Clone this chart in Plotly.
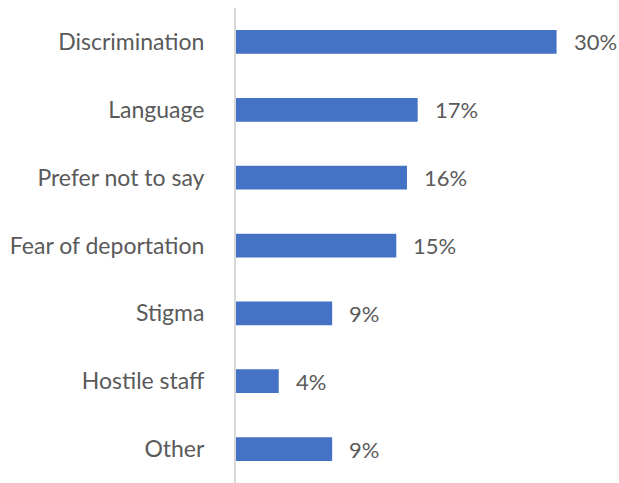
import plotly.graph_objects as go

# Reasons reported, top to bottom
categories = ["Discrimination", "Language", "Prefer not to say", "Fear of deportation",
              "Stigma", "Hostile staff", "Other"]
shares = [30, 17, 16, 15, 9, 4, 9]
labels = [f"{v}%" for v in shares]

bar_color = "#4472C4"
text_color = "#5a5a5a"
font_family = "Lato, 'Open Sans', sans-serif"

fig = go.Figure(
    go.Bar(
        x=shares,
        y=categories,
        orientation="h",
        marker=dict(color=bar_color, line=dict(width=0)),
        hoverinfo="skip",
    )
)

# value labels placed just right of each bar end
for cat, val, lab in zip(categories, shares, labels):
    fig.add_annotation(
        x=val, y=cat, text=lab, showarrow=False,
        xanchor="left", yanchor="middle", xshift=15,
        font=dict(family=font_family, size=22, color=text_color),
    )

fig.update_layout(
    width=619, height=483,
    margin=dict(l=236, r=9, t=8, b=0),
    paper_bgcolor="white", plot_bgcolor="white",
    bargap=0.65,
    showlegend=False,
    font=dict(family=font_family, size=22, color=text_color),
)
fig.update_xaxes(range=[0, 35], visible=False, fixedrange=True)
fig.update_yaxes(
    categoryorder="array", categoryarray=categories[::-1],
    showline=True, linecolor="#D9D9D9", linewidth=2,
    showgrid=False, zeroline=False, ticks="",
    ticklabelstandoff=25,
    tickfont=dict(family=font_family, size=23, color=text_color),
    fixedrange=True,
)

fig.write_html("out.html")
